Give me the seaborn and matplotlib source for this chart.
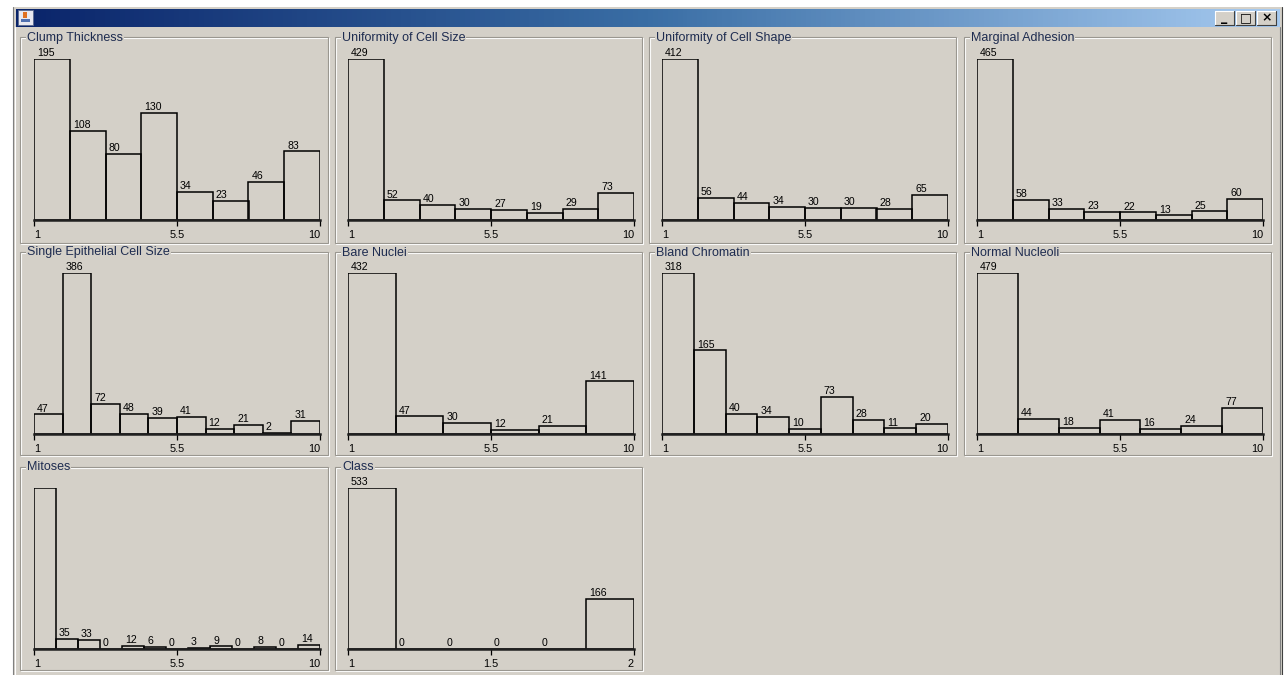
import numpy as np
import pandas as pd
import matplotlib
matplotlib.use("Agg")
import matplotlib.pyplot as plt
import seaborn as sns
from matplotlib.patches import Rectangle
from matplotlib.colors import LinearSegmentedColormap

# ---------- data (Weka "Visualize All", breast-cancer-wisconsin) ----------
titles = ["Clump Thickness", "Uniformity of Cell Size", "Uniformity of Cell Shape",
          "Marginal Adhesion", "Single Epithelial Cell Size", "Bare Nuclei",
          "Bland Chromatin", "Normal Nucleoli", "Mitoses", "Class"]

clump_thickness = [195, 108, 80, 130, 34, 23, 46, 83]
cell_size = [429, 52, 40, 30, 27, 19, 29, 73]
cell_shape = [412, 56, 44, 34, 30, 30, 28, 65]
marginal_adhesion = [465, 58, 33, 23, 22, 13, 25, 60]
single_epi = [47, 386, 72, 48, 39, 41, 12, 21, 2, 31]
bare_nuclei = [432, 47, 30, 12, 21, 141]
bland_chromatin = [318, 165, 40, 34, 10, 73, 28, 11, 20]
normal_nucleoli = [479, 44, 18, 41, 16, 24, 77]
mitoses = [579, 35, 33, 0, 12, 6, 0, 3, 9, 0, 8, 0, 14]
class_counts = [533, 0, 0, 0, 0, 166]

all_counts = [clump_thickness, cell_size, cell_shape, marginal_adhesion, single_epi,
              bare_nuclei, bland_chromatin, normal_nucleoli, mitoses, class_counts]
ranges = [(1, 10)] * 9 + [(1, 2)]
tick_labels = [["1", "5.5", "10"]] * 9 + [["1", "1.5", "2"]]
hidden_labels = {"Mitoses": [0]}   # label of the tallest Mitoses bar is not drawn

# ---------- layout (pixels) ----------
W, H = 1286, 675
BG = "#D4D0C8"
box_cols = [(20, 328), (335, 642), (649, 956), (964, 1271)]
box_rows = [(37, 243), (252, 455), (467, 670)]
axis_left = [34, 348, 662, 977]
axis_base = [220, 434, 649]
axis_w, axis_h = 286, 161

sns.set_theme(style="white")
plt.rcParams["font.family"] = ["Liberation Sans", "DejaVu Sans"]

fig = plt.figure(figsize=(W / 100, H / 100), dpi=100)
fig.patch.set_facecolor("white")

bg = fig.add_axes([0, 0, 1, 1], zorder=0)
bg.set_axis_off()

# window body
bg.add_patch(Rectangle((13, 7), 1270, 670, facecolor=BG, edgecolor="none"))
bg.plot([13, 13], [7, 675], color="#808080", lw=0.8)
bg.plot([15, 15], [27, 675], color="white", lw=0.8)
bg.plot([1282, 1282], [7, 675], color="#404040", lw=0.8)
bg.plot([1280, 1280], [27, 675], color="#808080", lw=0.8)

# title bar gradient
grad = np.linspace(0, 1, 256).reshape(1, -1)
cmap = LinearSegmentedColormap.from_list("tb", ["#0A246A", "#3A6EA5", "#A6CAF0"])
bg.imshow(grad, cmap=cmap, extent=[16, 1280, 27, 9], aspect="auto", zorder=1)

# java icon
bg.add_patch(Rectangle((18, 10), 15, 15, facecolor="#E8E8F0", edgecolor="#5A6A90", lw=0.6, zorder=2))
bg.add_patch(Rectangle((21, 19), 9, 3, facecolor="#5070B0", edgecolor="none", zorder=3))
bg.add_patch(Rectangle((23, 12), 4, 6, facecolor="#E07020", edgecolor="none", zorder=3))

# title bar buttons
for bx, glyph in [(1215, "_"), (1236, "□"), (1257, "×")]:
    bg.add_patch(Rectangle((bx, 11), 19, 14, facecolor=BG, edgecolor="none", zorder=2))
    bg.plot([bx, bx + 19], [11, 11], color="white", lw=0.8, zorder=3)
    bg.plot([bx, bx], [11, 25], color="white", lw=0.8, zorder=3)
    bg.plot([bx, bx + 19], [25, 25], color="#404040", lw=0.8, zorder=3)
    bg.plot([bx + 19, bx + 19], [11, 25], color="#404040", lw=0.8, zorder=3)
    bg.text(bx + 9.5, 18, glyph, ha="center", va="center", fontsize=9,
            fontweight="bold", color="black", zorder=4, family=["DejaVu Sans"])

# panel borders (etched, titled)
for i, title in enumerate(titles):
    r, c = divmod(i, 4)
    x0, x1 = box_cols[c]
    y0, y1 = box_rows[r]
    bg.add_patch(Rectangle((x0 + 1, y0 + 1), x1 - x0, y1 - y0, facecolor="none",
                           edgecolor="white", lw=0.8, zorder=2))
    bg.add_patch(Rectangle((x0, y0), x1 - x0, y1 - y0, facecolor="none",
                           edgecolor="#9A9790", lw=0.8, zorder=2))
    bg.text(x0 + 7, y0 + 0.5, title, ha="left", va="center", fontsize=9,
            color="#1E2C50", zorder=3,
            bbox=dict(facecolor=BG, edgecolor="none", pad=0.6))

bg.set_xlim(0, W)
bg.set_ylim(H, 0)

# histograms
for i, (title, counts) in enumerate(zip(titles, all_counts)):
    r, c = divmod(i, 4)
    lo, hi = ranges[i]
    n = len(counts)
    edges = np.linspace(lo, hi, n + 1)
    df = pd.DataFrame({"mid": (edges[:-1] + edges[1:]) / 2, "count": counts})

    ax = fig.add_axes([axis_left[c] / W, 1 - axis_base[r] / H, axis_w / W, axis_h / H], zorder=5)
    ax.set_facecolor("none")
    sns.histplot(data=df, x="mid", weights="count", bins=n, binrange=(lo, hi), ax=ax,
                 fill=False, color="black", linewidth=1.1)
    ax.set_xlim(lo, hi)
    ax.set_ylim(0, max(counts))
    ax.set_xlabel("")
    ax.set_ylabel("")
    ax.set_yticks([])
    for s in ["top", "left", "right"]:
        ax.spines[s].set_visible(False)
    ax.spines["bottom"].set_linewidth(1.8)
    ax.spines["bottom"].set_color("#202020")

    ax.set_xticks([lo, (lo + hi) / 2, hi])
    ax.set_xticklabels(tick_labels[i], fontsize=7.8, color="black")
    ax.tick_params(axis="x", direction="out", length=4, width=0.9, pad=3,
                   color="black", bottom=True)
    tl = ax.get_xticklabels()
    tl[0].set_ha("left")
    tl[-1].set_ha("right")

    skip = hidden_labels.get(title, [])
    for j, p in enumerate(ax.patches):
        if j in skip:
            continue
        ax.annotate(f"{int(round(p.get_height()))}", (p.get_x(), p.get_height()),
                    xytext=(2.2, 0.6), textcoords="offset points", ha="left",
                    va="bottom", fontsize=7.6, color="black", annotation_clip=False)

fig.savefig("out.png", dpi=100, facecolor=fig.get_facecolor())
